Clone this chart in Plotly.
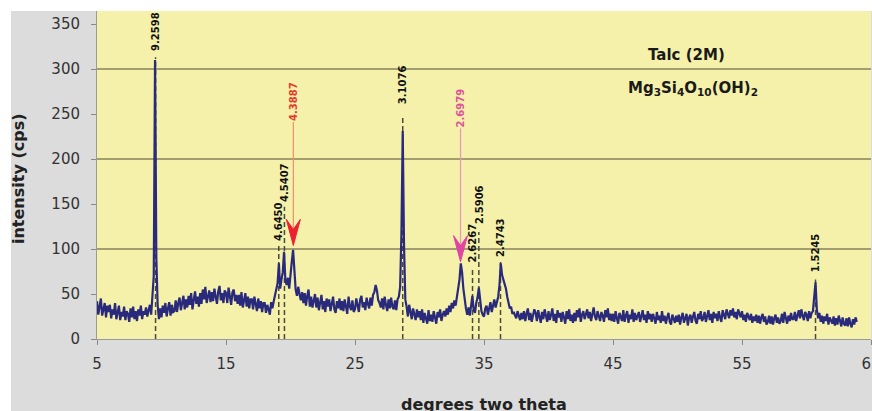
import plotly.graph_objects as go

# ---------------- data ----------------
two_theta_start = 5.0
two_theta_step = 0.1

i_05 = [42, 27, 36, 45, 26, 33, 40, 24, 37, 30]
i_06 = [38, 23, 33, 27, 40, 22, 31, 37, 21, 30]
i_07 = [25, 36, 21, 31, 28, 19, 34, 24, 36, 22]
i_08 = [31, 20, 33, 26, 37, 22, 31, 27, 35, 25]
i_09 = [32, 38, 27, 44, 70, 310, 90, 38, 22, 34]
i_10 = [24, 37, 29, 40, 25, 34, 41, 26, 38, 30]
i_11 = [31, 43, 30, 40, 46, 32, 41, 48, 33, 44]
i_12 = [35, 48, 38, 51, 33, 44, 53, 39, 47, 36]
i_13 = [51, 39, 55, 44, 58, 40, 48, 54, 41, 52]
i_14 = [42, 56, 47, 39, 53, 59, 43, 51, 40, 54]
i_15 = [51, 40, 57, 45, 38, 52, 55, 42, 49, 39]
i_16 = [49, 37, 52, 35, 46, 51, 36, 47, 34, 44]
i_17 = [44, 33, 47, 36, 31, 45, 34, 42, 30, 40]
i_18 = [40, 29, 38, 33, 27, 41, 34, 42, 48, 56]
i_19 = [62, 84, 56, 66, 74, 97, 66, 60, 68, 56]
i_20 = [74, 86, 99, 76, 55, 48, 58, 50, 43, 52]
i_21 = [40, 51, 37, 48, 55, 36, 47, 35, 44, 50]
i_22 = [35, 46, 32, 43, 49, 33, 42, 30, 45, 36]
i_23 = [44, 31, 40, 47, 33, 29, 42, 34, 45, 32]
i_24 = [42, 31, 44, 34, 28, 47, 36, 32, 43, 30]
i_25 = [33, 45, 37, 30, 44, 48, 35, 41, 32, 46]
i_26 = [39, 34, 46, 37, 49, 52, 60, 54, 43, 40]
i_27 = [35, 45, 33, 47, 38, 31, 44, 34, 46, 36]
i_28 = [33, 43, 32, 44, 47, 58, 118, 231, 105, 44]
i_29 = [36, 25, 38, 29, 22, 34, 27, 21, 33, 24]
i_30 = [31, 21, 33, 18, 29, 23, 17, 32, 20, 27]
i_31 = [19, 31, 22, 17, 30, 24, 33, 20, 27, 31]
i_32 = [25, 34, 27, 37, 30, 40, 34, 43, 37, 47]
i_33 = [54, 66, 84, 74, 56, 42, 34, 27, 35, 26]
i_34 = [38, 48, 32, 29, 40, 46, 57, 41, 31, 27]
i_35 = [25, 34, 37, 27, 36, 41, 30, 39, 44, 35]
i_36 = [42, 47, 60, 84, 71, 66, 62, 56, 47, 38]
i_37 = [34, 36, 28, 30, 27, 23, 31, 25, 21, 29]
i_38 = [22, 31, 20, 28, 34, 21, 29, 19, 27, 33]
i_39 = [29, 20, 32, 25, 18, 30, 22, 33, 24, 19]
i_40 = [31, 21, 27, 34, 20, 28, 18, 32, 24, 29]
i_41 = [19, 30, 24, 17, 31, 22, 33, 20, 27, 18]
i_42 = [29, 20, 32, 24, 34, 19, 27, 31, 22, 29]
i_43 = [33, 23, 30, 20, 28, 35, 25, 21, 31, 24]
i_44 = [20, 30, 26, 19, 32, 24, 34, 21, 28, 20]
i_45 = [28, 19, 31, 23, 17, 29, 25, 20, 32, 19]
i_46 = [26, 31, 18, 27, 22, 33, 19, 29, 21, 26]
i_47 = [30, 19, 26, 32, 21, 27, 18, 31, 22, 28]
i_48 = [19, 28, 23, 17, 30, 21, 26, 18, 31, 20]
i_49 = [26, 17, 24, 29, 19, 16, 27, 21, 18, 26]
i_50 = [19, 27, 16, 24, 29, 18, 23, 28, 15, 24]
i_51 = [27, 18, 25, 30, 20, 17, 28, 22, 31, 20]
i_52 = [23, 30, 19, 26, 32, 21, 28, 18, 30, 23]
i_53 = [28, 20, 31, 24, 19, 32, 27, 22, 33, 26]
i_54 = [23, 32, 26, 34, 24, 30, 22, 33, 27, 24]
i_55 = [31, 21, 27, 19, 29, 24, 21, 28, 18, 25]
i_56 = [20, 27, 18, 26, 17, 24, 28, 19, 25, 16]
i_57 = [19, 26, 17, 25, 16, 23, 27, 18, 24, 17]
i_58 = [20, 28, 18, 30, 22, 17, 26, 20, 29, 22]
i_59 = [22, 30, 20, 28, 32, 23, 33, 26, 21, 30]
i_60 = [27, 20, 31, 23, 29, 31, 44, 63, 33, 23]
i_61 = [29, 19, 26, 17, 25, 20, 28, 16, 24, 19]
i_62 = [17, 25, 15, 23, 16, 26, 18, 14, 24, 17]
i_63 = [15, 23, 14, 24, 17, 13, 22, 16, 24, 19]

intensity = (i_05 + i_06 + i_07 + i_08 + i_09 + i_10 + i_11 + i_12 + i_13 + i_14
             + i_15 + i_16 + i_17 + i_18 + i_19 + i_20 + i_21 + i_22 + i_23 + i_24
             + i_25 + i_26 + i_27 + i_28 + i_29 + i_30 + i_31 + i_32 + i_33 + i_34
             + i_35 + i_36 + i_37 + i_38 + i_39 + i_40 + i_41 + i_42 + i_43 + i_44
             + i_45 + i_46 + i_47 + i_48 + i_49 + i_50 + i_51 + i_52 + i_53 + i_54
             + i_55 + i_56 + i_57 + i_58 + i_59 + i_60 + i_61 + i_62 + i_63)
two_theta = [round(two_theta_start + two_theta_step * k, 2) for k in range(len(intensity))]

# labelled peaks (dashed markers)
peak_two_theta = [9.54, 19.09, 19.53, 28.70, 34.11, 34.60, 36.28, 60.70]
peak_d_labels = ["9.2598", "4.6450", "4.5407", "3.1076", "2.6267", "2.5906", "2.4743", "1.5245"]
peak_label_base = [319, 108, 151, 260, 84, 127, 90, 73]
peak_line_top = [313, 104, 147, 249, 79, 119, 86, 66]

# highlighted peaks (arrows)
arrow_two_theta = [20.22, 33.18]
arrow_d_labels = ["4.3887", "2.6979"]
arrow_label_base = [241, 234]
arrow_tip = [104, 86]

grid_values = [100, 200, 300]
x_ticks = [5, 15, 25, 35, 45, 55, 65]
y_ticks = [0, 50, 100, 150, 200, 250, 300, 350]

# ---------------- layout helpers ----------------
W, H = 872, 411
ML, MR, MT, MB = 97, 1, 11, 72
PW, PH = W - ML - MR, H - MT - MB


def px_x(p):
    return (p - ML) / PW


def px_y(p):
    return (H - MB - p) / PH


FONT = "DejaVu Sans"
arrow_text_colors = ["#e5392e", "#e0509c"]
arrow_line_colors = ["#f28a70", "#ec94bf"]
arrow_head_colors = ["#ee2030", "#e244a2"]

fig = go.Figure()
fig.add_trace(go.Scatter(
    x=two_theta, y=intensity, mode="lines",
    line=dict(color="#2a2a7c", width=2.2), hoverinfo="skip", showlegend=False,
))

shapes = []
# white strips (top and left)
shapes.append(dict(type="rect", xref="paper", yref="paper", x0=px_x(0), x1=px_x(W + 2),
                   y0=px_y(MT), y1=px_y(-2), fillcolor="white", line=dict(width=0), layer="below"))
shapes.append(dict(type="rect", xref="paper", yref="paper", x0=px_x(-2), x1=px_x(11),
                   y0=px_y(H + 2), y1=px_y(-2), fillcolor="white", line=dict(width=0), layer="below"))
# gridlines
for g in grid_values:
    shapes.append(dict(type="line", xref="paper", yref="y", x0=0, x1=1, y0=g, y1=g,
                       line=dict(color="#86825a", width=1.5), layer="below"))
# dashed peak markers
for xp, top in zip(peak_two_theta, peak_line_top):
    shapes.append(dict(type="line", xref="x", yref="y", x0=xp, x1=xp, y0=0, y1=top,
                       line=dict(color="#4a4a3c", width=1.5, dash="5px,3px"), layer="below"))
# arrows
for xp, base, tip, lc, hc in zip(arrow_two_theta, arrow_label_base, arrow_tip,
                                  arrow_line_colors, arrow_head_colors):
    shapes.append(dict(type="line", xref="x", yref="y", x0=xp, x1=xp, y0=tip, y1=base,
                       line=dict(color=lc, width=1.2)))
    shapes.append(dict(type="path", xref="x", yref="y", xsizemode="pixel", ysizemode="pixel",
                       xanchor=xp, yanchor=tip, path="M0,0 L-7,26 L0,16 L7,26 Z",
                       fillcolor=hc, line=dict(color=hc, width=1)))

annotations = []
for xp, lab, base in zip(peak_two_theta, peak_d_labels, peak_label_base):
    annotations.append(dict(x=xp, y=base, xref="x", yref="y", text="<b>%s</b>" % lab,
                            showarrow=False, textangle=-90, yanchor="bottom", xanchor="center",
                            font=dict(family=FONT, size=10, color="#111111"), borderpad=0))
for xp, lab, base, tc in zip(arrow_two_theta, arrow_d_labels, arrow_label_base, arrow_text_colors):
    annotations.append(dict(x=xp, y=base, xref="x", yref="y", text="<b>%s</b>" % lab,
                            showarrow=False, textangle=-90, yanchor="bottom", xanchor="center",
                            font=dict(family=FONT, size=10, color=tc), borderpad=0))
# mineral name and formula
annotations.append(dict(x=px_x(686), y=px_y(55), xref="paper", yref="paper",
                        xanchor="center", yanchor="middle",
                        text="<b>Talc (2M)</b>", showarrow=False,
                        font=dict(family=FONT, size=15, color="#1a1a1a")))
annotations.append(dict(x=px_x(693), y=px_y(88), xref="paper", yref="paper",
                        xanchor="center", yanchor="middle",
                        text="<b>Mg<sub>3</sub>Si<sub>4</sub>O<sub>10</sub>(OH)<sub>2</sub></b>",
                        showarrow=False, font=dict(family=FONT, size=15, color="#1a1a1a")))
# axis titles
annotations.append(dict(x=px_x(484), y=px_y(404), xref="paper", yref="paper",
                        xanchor="center", yanchor="middle",
                        text="<b>degrees two theta</b>", showarrow=False,
                        font=dict(family=FONT, size=16, color="#222222")))
annotations.append(dict(x=px_x(18), y=px_y(179), xref="paper", yref="paper",
                        xanchor="center", yanchor="middle",
                        text="<b>intensity (cps)</b>", showarrow=False, textangle=-90,
                        font=dict(family=FONT, size=16, color="#222222")))

fig.update_layout(
    width=W, height=H,
    margin=dict(l=ML, r=MR, t=MT, b=MB, pad=0, autoexpand=False),
    paper_bgcolor="#dcdcdc",
    plot_bgcolor="#f5f1aa",
    shapes=shapes, annotations=annotations,
    showlegend=False,
    xaxis=dict(range=[5, 65], tickmode="array", tickvals=x_ticks, ticks="outside", ticklen=5,
               tickcolor="#888888", showline=True, linecolor="#9a9a9a", linewidth=1,
               showgrid=False, zeroline=False, ticklabelstandoff=6, ticklabeloverflow="allow",
               automargin=False,
               tickfont=dict(family=FONT, size=15, color="#333333")),
    yaxis=dict(range=[0, (H - MB - MT) / 0.9], tickmode="array", tickvals=y_ticks, ticks="outside",
               ticklen=5, tickcolor="#888888", showline=True, linecolor="#9a9a9a", linewidth=1,
               showgrid=False, zeroline=False, ticklabelstandoff=8, automargin=False,
               tickfont=dict(family=FONT, size=15, color="#333333")),
)

fig.write_html("out.html", config={"displayModeBar": False},
               post_script="document.documentElement.style.overflow='hidden';"
                           "document.body.style.margin='0';document.body.style.overflow='hidden';")
